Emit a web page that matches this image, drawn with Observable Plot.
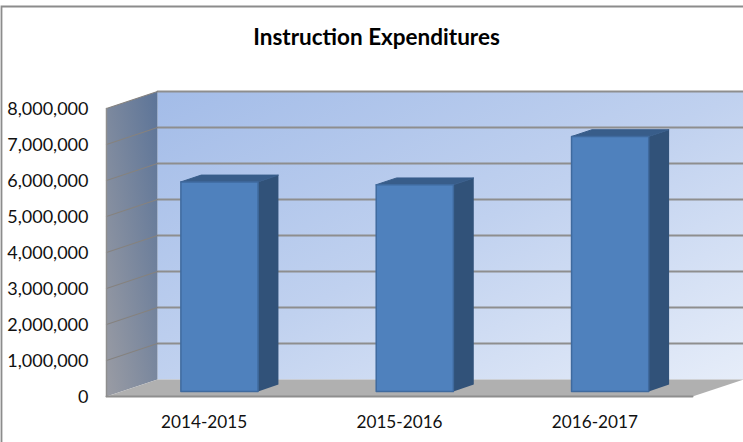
<!DOCTYPE html>
<html>
<head>
<meta charset="utf-8">
<script src="https://cdn.jsdelivr.net/npm/d3@7"></script>
<script src="https://cdn.jsdelivr.net/npm/@observablehq/plot@0.6"></script>
<style>
html,body{margin:0;padding:0;background:#fff}
svg{display:block}
</style>
</head>
<body>
<div id="chart"></div>
<script>
const titleText = "Instruction Expenditures";
const categories = ["2014-2015", "2015-2016", "2016-2017"];
const values = [5820000, 5740000, 7080000];
const yTicks = [0, 1000000, 2000000, 3000000, 4000000, 5000000, 6000000, 7000000, 8000000];

// oblique projection: depth in data units (category widths / dollars)
const DX = 0.261, DY = 472000;
const P = (cat, val, depth = 0) => ({x: cat + depth * DX, y: val + depth * DY});
const poly = (id, pts) => pts.map((p) => ({id, ...P(...p)}));
const yMax = 8000000, n = categories.length;
const barW = 0.395, d0 = 0.3, d1 = 0.7;

const backWall = poly("back", [[0,0,1],[n,0,1],[n,yMax,1],[0,yMax,1],[0,0,1]]);
const sideWall = poly("side", [[0,0,0],[0,0,1],[0,yMax,1],[0,yMax,0],[0,0,0]]);
const floor = poly("floor", [[0,0,0],[n,0,0],[n,0,1],[0,0,1],[0,0,0]]);
const backGrid = yTicks.slice(1).flatMap((t) => poly("b" + t, [[0,t,1],[n,t,1]]));
const sideGrid = yTicks.slice(1).flatMap((t) => poly("s" + t, [[0,t,0],[0,t,1]]));
const frontEdge = poly("edge", [[0,0,0],[n,0,0]]);
const sideEdge = poly("sedge", [[0,yMax,0],[0,0,0]]);

const bars = values.flatMap((v, i) => {
  const a = i + 0.5 - barW / 2, b = i + 0.5 + barW / 2;
  return [{
    face: "front", pts: poly("f" + i, [[a,0,d0],[b,0,d0],[b,v,d0],[a,v,d0],[a,0,d0]])
  }, {
    face: "top", pts: poly("t" + i, [[a,v,d0],[b,v,d0],[b,v,d1],[a,v,d1],[a,v,d0]])
  }, {
    face: "side", pts: poly("r" + i, [[b,0,d0],[b,0,d1],[b,v,d1],[b,v,d0],[b,0,d0]])
  }];
});
const faces = (f) => bars.filter((b) => b.face === f).flatMap((b) => b.pts);

const defs = () => {
  const s = d3.create("svg:defs");
  const g1 = s.append("linearGradient").attr("id", "gBack")
    .attr("x1", 0).attr("y1", 0).attr("x2", 1).attr("y2", 1);
  g1.append("stop").attr("offset", 0).attr("stop-color", "#a3bce8");
  g1.append("stop").attr("offset", 0.5).attr("stop-color", "#c0d1ef");
  g1.append("stop").attr("offset", 1).attr("stop-color", "#e6edf9");
  const g2 = s.append("linearGradient").attr("id", "gSide")
    .attr("x1", 1).attr("y1", 0).attr("x2", 0).attr("y2", 1);
  g2.append("stop").attr("offset", 0).attr("stop-color", "#5c7498");
  g2.append("stop").attr("offset", 1).attr("stop-color", "#9a9ca4");
  return s.node();
};

const W = 743, H = 442;
const chart = Plot.plot({
  width: W, height: H,
  marginLeft: 106, marginRight: 51, marginTop: 108, marginBottom: 46,
  style: {fontFamily: "Lato, sans-serif", background: "#fff", overflow: "visible"},
  x: {type: "linear", domain: [0, n]},
  y: {domain: [0, yMax]},
  marks: [
    defs,
    Plot.line(backWall, {x: "x", y: "y", z: "id", fill: "url(#gBack)", stroke: "none"}),
    Plot.line(sideWall, {x: "x", y: "y", z: "id", fill: "url(#gSide)", stroke: "none"}),
    Plot.line(floor, {x: "x", y: "y", z: "id", fill: "#b0b0b0", stroke: "none"}),
    Plot.line(backGrid, {x: "x", y: "y", z: "id", stroke: "#8e8e8e", strokeWidth: 1.8}),
    Plot.line(sideGrid, {x: "x", y: "y", z: "id", stroke: "#85827f", strokeWidth: 1.2}),
    Plot.line(sideEdge, {x: "x", y: "y", z: "id", stroke: "#8e8e8e", strokeWidth: 1.5}),
    Plot.line(frontEdge, {x: "x", y: "y", z: "id", stroke: "#8e8e8e", strokeWidth: 2}),
    Plot.line(faces("side"), {x: "x", y: "y", z: "id", fill: "#315279", stroke: "none"}),
    Plot.line(faces("top"), {x: "x", y: "y", z: "id", fill: "#385d8a", stroke: "#385d8a", strokeWidth: 1}),
    Plot.line(faces("front"), {x: "x", y: "y", z: "id", fill: "#4f81bd", stroke: "#3f6a9e", strokeWidth: 1.5}),
    Plot.axisY({ticks: yTicks, tickSize: 0, tickPadding: 18, tickFormat: d3.format(","), fontSize: 18, label: null, color: "#111", dy: 1}),
    Plot.axisX({ticks: categories.map((c, i) => i + 0.5), tickFormat: (d) => categories[d - 0.5], tickSize: 0, tickPadding: 19, fontSize: 17.2, label: null, color: "#111"}),
    Plot.text([titleText], {frameAnchor: "top", dx: -23, dy: -71, fontSize: 22.5, fontWeight: "bold", fill: "#000", lineAnchor: "middle"})
  ]
});
d3.select(chart).append("path").attr("d", `M1.5,${H}V6.5H${W}`)
  .attr("fill", "none").attr("stroke", "#8c8c8c").attr("stroke-width", 1.8);
document.getElementById("chart").append(chart);
</script>
</body>
</html>
